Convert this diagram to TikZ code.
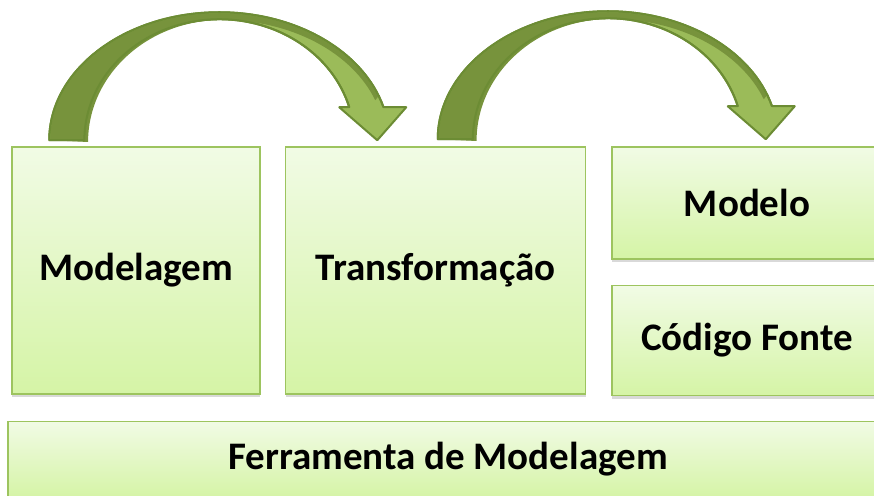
\documentclass[tikz,border=0pt]{standalone}
\usepackage{fontspec}
\setmainfont{Carlito}
\usetikzlibrary{positioning,calc,shadows}

\definecolor{boxtop}{HTML}{F1FBE5}
\definecolor{boxbottom}{HTML}{D5F4A6}
\definecolor{boxedge}{HTML}{9DC45F}
\definecolor{arrowdark}{HTML}{77933C}
\definecolor{arrowlight}{HTML}{9BBB59}
\definecolor{arrowedge}{HTML}{6C8C34}

\tikzset{
  layer box/.style={rectangle,draw=boxedge,line width=1.5pt,top color=boxtop,bottom color=boxbottom,
    inner sep=0pt,font=\bfseries\fontsize{39}{42}\selectfont,
    drop shadow={shadow xshift=0pt,shadow yshift=-3pt,opacity=0.3}},
  bent arrow/.pic={
    % whole arrow, light face
    \filldraw[fill=arrowlight,draw=arrowedge,line width=2pt,line join=round]
      (0,0) arc[start angle=180,end angle=15,x radius=170,y radius=128]
      -- (357,33) -- (328,0) -- (290,33) -- (300,33)
      arc[start angle=15.83,end angle=180,x radius=135,y radius=121] -- cycle;
    % dark back face
    \fill[arrowdark]
      (1,0) arc[start angle=180,end angle=20,x radius=169,y radius=127]
      -- (326,40) arc[start angle=20,end angle=90,x radius=163,y radius=122]
      arc[start angle=90,end angle=180,x radius=134,y radius=122] -- cycle;
    \draw[arrowedge,line width=2pt,line join=round]
      (0,0) arc[start angle=180,end angle=15,x radius=170,y radius=128]
      (300,33) arc[start angle=15.83,end angle=180,x radius=135,y radius=121] -- (0,0);
  }
}

\begin{document}
\begin{tikzpicture}[x=1pt,y=1pt]
\path[use as bounding box,clip] (0,0) rectangle (874,495);

\node[layer box,minimum width=248pt,minimum height=247pt] (mod) at (136,224.5) {Modelagem};
\node[layer box,minimum width=300pt,minimum height=247pt,right=24pt of mod] (trans) {Transformação};
\node[layer box,minimum width=270pt,minimum height=112pt,anchor=north west] (modelo)
  at ($(trans.north east)+(25,0)$) {Modelo};
\node[layer box,minimum width=270pt,minimum height=110pt,below=25pt of modelo] (codigo) {Código Fonte};
\node[layer box,minimum width=880pt,minimum height=76pt,anchor=north west] (ferr)
  at ($(mod.south west)+(-4,-26)$) {Ferramenta de Modelagem};

\pic at ($(mod.north west)+(38,6)$) {bent arrow};
\pic at ($(trans.north west)+(153,7)$) {bent arrow};

\end{tikzpicture}
\end{document}
